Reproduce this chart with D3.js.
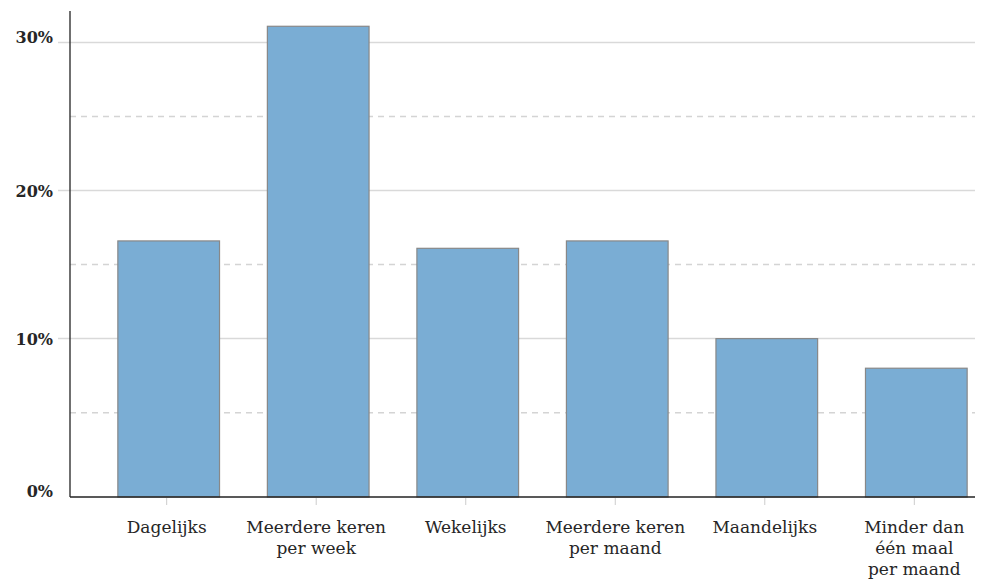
<!DOCTYPE html>
<html>
<head>
<meta charset="utf-8">
<script src="https://cdn.jsdelivr.net/npm/d3@7"></script>
<style>
  html, body { margin: 0; padding: 0; background: #fff; }
  svg { display: block; }
  text { font-family: "DejaVu Serif", serif; fill: #262626; }
</style>
</head>
<body>
<svg id="chart" width="990" height="580"></svg>
<script>
const categories = [
  ["Dagelijks"],
  ["Meerdere keren", "per week"],
  ["Wekelijks"],
  ["Meerdere keren", "per maand"],
  ["Maandelijks"],
  ["Minder dan", "één maal", "per maand"]
];
const values = [16.6, 31.1, 16.1, 16.6, 10.0, 8.0];
const majorTicks = [0, 10, 20, 30];
const minorTicks = [5, 15, 25];
const tickLabels = ["0%", "10%", "20%", "30%"];

const W = 990, H = 580;
const margin = { left: 70, top: 10, bottom: 83, rightGrid: 975 };

const svg = d3.select("#chart");

const keys = categories.map((c, i) => i);
const x = d3.scaleBand()
  .domain(keys)
  .range([margin.left, 1015])
  .paddingInner(0.32)
  .paddingOuter(0.32);

const y = d3.scaleLinear()
  .domain([-0.7, 32.2])
  .range([H - margin.bottom, margin.top]);

const bottom = y.range()[0];

// dashed minor gridlines
svg.append("g").selectAll("line").data(minorTicks).join("line")
  .attr("x1", margin.left).attr("x2", margin.rightGrid)
  .attr("y1", d => y(d)).attr("y2", d => y(d))
  .attr("stroke", "#d4d4d4").attr("stroke-width", 1.5)
  .attr("stroke-dasharray", "6,5");

// solid major gridlines (excluding 0)
svg.append("g").selectAll("line").data(majorTicks.filter(d => d > 0)).join("line")
  .attr("x1", 58).attr("x2", margin.rightGrid)
  .attr("y1", d => y(d)).attr("y2", d => y(d))
  .attr("stroke", "#d9d9d9").attr("stroke-width", 1.5);

// bars
svg.append("g").selectAll("rect").data(values).join("rect")
  .attr("x", (d, i) => x(i))
  .attr("width", x.bandwidth())
  .attr("y", d => y(d))
  .attr("height", d => bottom - y(d))
  .attr("fill", "#7aadd4")
  .attr("stroke", "#888888")
  .attr("stroke-width", 1.2);

// axes lines
svg.append("line")
  .attr("x1", margin.left).attr("x2", margin.left)
  .attr("y1", y.range()[1] + 1).attr("y2", bottom)
  .attr("stroke", "#222").attr("stroke-width", 1.3);
svg.append("line")
  .attr("x1", margin.left).attr("x2", margin.rightGrid)
  .attr("y1", bottom).attr("y2", bottom)
  .attr("stroke", "#222").attr("stroke-width", 1.3);

// x ticks
svg.append("g").selectAll("line").data(keys).join("line")
  .attr("x1", d => x(d) + x.bandwidth() / 2 - 2)
  .attr("x2", d => x(d) + x.bandwidth() / 2 - 2)
  .attr("y1", bottom + 1).attr("y2", bottom + 8)
  .attr("stroke", "#cccccc").attr("stroke-width", 1);

// x labels
const xl = svg.append("g").selectAll("text").data(keys).join("text")
  .attr("x", d => x(d) + x.bandwidth() / 2 - 2)
  .attr("y", bottom + 36)
  .attr("text-anchor", "middle")
  .style("font-size", "17px");
xl.each(function(d) {
  const t = d3.select(this);
  categories[d].forEach((line, j) => {
    t.append("tspan")
      .attr("x", x(d) + x.bandwidth() / 2 - 2)
      .attr("dy", j === 0 ? 0 : 21)
      .text(line);
  });
});

// y labels
svg.append("g").selectAll("text").data(majorTicks).join("text")
  .attr("x", 53)
  .attr("y", (d, i) => i === 0 ? bottom : (i === majorTicks.length - 1 ? y(d) : y(d) + 6))
  .attr("text-anchor", "end")
  .style("font-size", "16px")
  .style("font-weight", "600")
  .text((d, i) => tickLabels[i]);
</script>
</body>
</html>
